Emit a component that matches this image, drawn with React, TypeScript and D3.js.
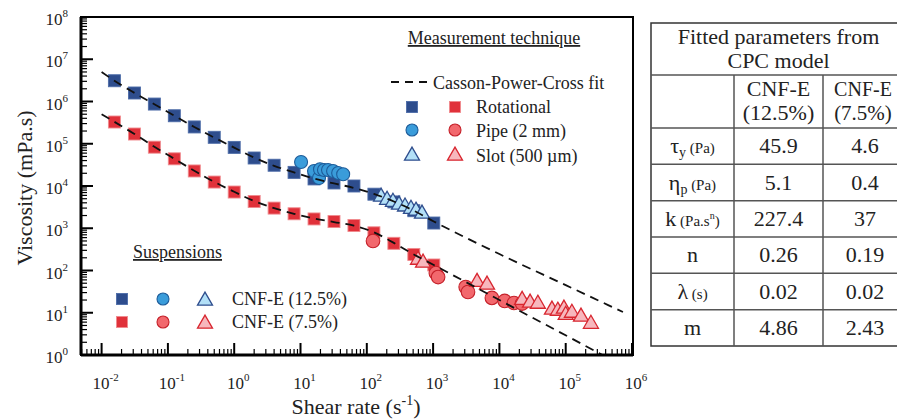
import React from 'react';
import * as d3 from 'd3';

// shear rates of the rotational sweeps (both suspensions)
const rotRate = [0.0156, 0.0313, 0.0625, 0.125, 0.25, 0.5, 1, 2, 4, 8, 16, 32, 64, 128, 256, 512, 1024];
const rot12 = [3.1e6, 1.59e6, 8.7e5, 4.6e5, 2.5e5, 1.42e5, 8.2e4, 4.6e4, 3.1e4, 2.1e4, 1.47e4, 1.18e4, 1.0e4, 6.4e3, 4.2e3, 2.6e3, 1.33e3];
const rot75 = [3.27e5, 1.7e5, 8.3e4, 4.4e4, 2.27e4, 1.24e4, 7.2e3, 4.3e3, 3.0e3, 2.2e3, 1.66e3, 1.44e3, 1.16e3, 7.8e2, 4.4e2, 2.4e2, 1.35e2];

const pipe12Rate = [10.2, 16, 19, 19.7, 22.6, 26, 31, 37, 44];
const pipe12 = [3.7e4, 2.26e4, 1.55e4, 2.5e4, 2.4e4, 2.4e4, 2.26e4, 2.03e4, 1.9e4];
const pipe75Rate = [124, 1100, 1190, 3100, 3360, 7700, 1.2e4, 1.66e4, 2.2e4];
const pipe75 = [500, 87, 70, 40.6, 31, 22.4, 19, 17, 16.5];

const slot12Rate = [164, 202, 248, 306, 377, 464, 552, 680];
const slot12 = [5.8e3, 4.9e3, 4.4e3, 3.75e3, 3.4e3, 3.0e3, 2.7e3, 2.3e3];
const slot75Rate = [592, 705, 4600, 6500, 2.2e4, 2.9e4, 3.8e4, 6.2e4, 7.6e4, 9.4e4, 1.0e5, 1.24e5, 1.7e5, 2.4e5];
const slot75 = [187, 159, 56, 48, 21, 18, 17, 12.3, 11.6, 13, 9.3, 10.4, 8.4, 5.7];

// Casson-Power-Cross fit curves
const fit12Rate = [0.01, 0.0156, 0.0313, 0.0625, 0.125, 0.25, 0.5, 1, 2, 4, 8, 16, 32, 64, 128, 256, 512, 1024, 1e4, 1e5, 7.3e5];
const fit12 = [5.0e6, 3.1e6, 1.6e6, 8.6e5, 4.6e5, 2.5e5, 1.4e5, 8.1e4, 4.7e4, 3.0e4, 2.1e4, 1.5e4, 1.15e4, 9.0e3, 6.5e3, 4.3e3, 2.6e3, 1.45e3, 245, 45, 10.4];
const fit75Rate = [0.01, 0.0156, 0.0313, 0.0625, 0.125, 0.25, 0.5, 1, 2, 4, 8, 16, 32, 64, 128, 256, 512, 1024, 1e4, 3.6e5];
const fit75 = [5.0e5, 3.3e5, 1.7e5, 8.5e4, 4.4e4, 2.3e4, 1.25e4, 7.3e3, 4.4e3, 3.0e3, 2.2e3, 1.7e3, 1.4e3, 1.15e3, 8.0e2, 4.5e2, 2.4e2, 1.35e2, 20, 1.0];

const xTickExps = [-2, -1, 0, 1, 2, 3, 4, 5, 6];
const yTickExps = [0, 1, 2, 3, 4, 5, 6, 7, 8];

// table
const tableTitle = ['Fitted parameters from', 'CPC model'];
const tableCols = [['CNF-E', '(12.5%)'], ['CNF-E', '(7.5%)']];
const paramSym = ['τ', 'η', 'k', 'n', 'λ', 'm'];
const paramSub = ['y', 'p', '', '', '', ''];
const paramUnit = ['(Pa)', '(Pa)', '(Pa.s', '', '(s)', ''];
const col12 = ['45.9', '5.1', '227.4', '0.26', '0.02', '4.86'];
const col75 = ['4.6', '0.4', '37', '0.19', '0.02', '2.43'];

const C = {
  sq12: '#2e4d8d', sq12s: '#4d6ca8',
  ci12: '#3a9cda', ci12s: '#1d5c9a',
  tr12: '#b3e0f7', tr12s: '#2e4d8d',
  sq75: '#e0313a', sq75s: '#f08a8e',
  ci75: '#f2686d', ci75s: '#c52029',
  tr75: '#f7b7bd', tr75s: '#d8262f',
};

const FONT = "'Liberation Serif', serif";

const Square = ({ x, y, s, fill, stroke }) => (
  <rect x={x - s / 2} y={y - s / 2} width={s} height={s} fill={fill} stroke={stroke} strokeWidth={0.9} />
);
const Circle = ({ x, y, r, fill, stroke }) => (
  <circle cx={x} cy={y} r={r} fill={fill} stroke={stroke} strokeWidth={1.1} />
);
const Tri = ({ x, y, s, fill, stroke }) => {
  const h = s * 0.87;
  return (
    <path d={`M${x},${y - h * 0.6}L${x + s / 2},${y + h * 0.4}L${x - s / 2},${y + h * 0.4}Z`}
      fill={fill} stroke={stroke} strokeWidth={1.3} strokeLinejoin="miter" />
  );
};

export default function App() {
  const W = 897, H = 420;
  const left = 81, right = 633, top = 17, bottom = 355;
  const x = d3.scaleLog().domain([0.00489, 1.035e6]).range([left, right]);
  const y = d3.scaleLog().domain([1, 1e8]).range([bottom, top]);

  const minorX = [];
  for (let e = -3; e <= 6; e++) for (let m = 2; m <= 9; m++) {
    const v = m * Math.pow(10, e);
    if (v > 0.00489 && v < 1.035e6) minorX.push(v);
  }
  const minorY = [];
  for (let e = 0; e < 8; e++) for (let m = 2; m <= 9; m++) minorY.push(m * Math.pow(10, e));

  const line = d3.line().x(d => x(d[0])).y(d => y(d[1])).curve(d3.curveMonotoneX);
  const path12 = line(fit12Rate.map((r, i) => [r, fit12[i]]));
  const path75 = line(fit75Rate.map((r, i) => [r, fit75[i]]));

  // table geometry
  const tx = [651, 734, 823, 912];
  const rowTop = 128, rowBot = 346;
  const rowY = d3.range(7).map(i => rowTop + (rowBot - rowTop) * i / 6);
  const col3x = 863;

  return (
    <svg width={W} height={H} style={{ position: 'absolute', left: 0, top: 0, background: '#fff', fontFamily: FONT }}>
      <rect width={W} height={H} fill="#fff" />

      {/* data markers */}
      {rotRate.map((r, i) => <Square key={'s12' + i} x={x(r)} y={y(rot12[i])} s={12} fill={C.sq12} stroke={C.sq12s} />)}
      {rotRate.map((r, i) => <Square key={'s75' + i} x={x(r)} y={y(rot75[i])} s={12} fill={C.sq75} stroke={C.sq75s} />)}
      {pipe12Rate.map((r, i) => <Circle key={'c12' + i} x={x(r)} y={y(pipe12[i])} r={6.5} fill={C.ci12} stroke={C.ci12s} />)}
      {pipe75Rate.map((r, i) => <Circle key={'c75' + i} x={x(r)} y={y(pipe75[i])} r={6.8} fill={C.ci75} stroke={C.ci75s} />)}
      {slot12Rate.map((r, i) => <Tri key={'t12' + i} x={x(r)} y={y(slot12[i])} s={15} fill={C.tr12} stroke={C.tr12s} />)}
      {slot75Rate.map((r, i) => <Tri key={'t75' + i} x={x(r)} y={y(slot75[i])} s={15} fill={C.tr75} stroke={C.tr75s} />)}

      {/* fit lines */}
      <path d={path12} fill="none" stroke="#111" strokeWidth={1.8} strokeDasharray="9,6" />
      <path d={path75} fill="none" stroke="#111" strokeWidth={1.8} strokeDasharray="9,6" />

      {/* frame */}
      <rect x={left} y={top} width={right - left} height={bottom - top} fill="none" stroke="#000" strokeWidth={2} />
      <line x1={left} x2={left} y1={top} y2={bottom} stroke="#000" strokeWidth={3} />
      <line x1={left} x2={right} y1={bottom} y2={bottom} stroke="#000" strokeWidth={3} />

      {/* y ticks */}
      {yTickExps.map(e => (
        <line key={'ym' + e} x1={left} x2={left + 12} y1={y(Math.pow(10, e))} y2={y(Math.pow(10, e))} stroke="#000" strokeWidth={2} />
      ))}
      {minorY.map((v, i) => (
        <line key={'yn' + i} x1={left} x2={left + 6} y1={y(v)} y2={y(v)} stroke="#000" strokeWidth={1.2} />
      ))}
      {yTickExps.map(e => (
        <text key={'yl' + e} x={68} y={y(Math.pow(10, e)) + 8} textAnchor="end" fontSize={17} fill="#222">
          10<tspan dy={-8} fontSize={11}>{e}</tspan>
        </text>
      ))}

      {/* x ticks */}
      {xTickExps.map(e => (
        <line key={'xm' + e} y1={bottom} y2={bottom - 12} x1={x(Math.pow(10, e))} x2={x(Math.pow(10, e))} stroke="#000" strokeWidth={2} />
      ))}
      {minorX.map((v, i) => (
        <line key={'xn' + i} y1={bottom} y2={bottom - 6} x1={x(v)} x2={x(v)} stroke="#000" strokeWidth={1.2} />
      ))}
      {xTickExps.map(e => (
        <text key={'xl' + e} x={x(Math.pow(10, e)) + 4} y={389} textAnchor="middle" fontSize={17} fill="#222">
          10<tspan dy={-8} fontSize={11}>{e}</tspan>
        </text>
      ))}

      {/* axis titles */}
      <text x={356} y={414} textAnchor="middle" fontSize={22} fill="#222">
        Shear rate (s<tspan dy={-9} fontSize={14}>-1</tspan><tspan dy={9}>)</tspan>
      </text>
      <text transform="translate(32,188) rotate(-90)" textAnchor="middle" fontSize={22} fill="#222">
        Viscosity (mPa.s)
      </text>

      {/* legend: measurement technique */}
      <text x={494} y={44} textAnchor="middle" fontSize={18} fill="#222" textDecoration="underline">Measurement technique</text>
      <line x1={391} x2={433} y1={82} y2={82} stroke="#111" strokeWidth={1.8} strokeDasharray="8,6" />
      <text x={433} y={89} fontSize={18} fill="#222">Casson-Power-Cross fit</text>
      <Square x={412} y={107} s={11} fill={C.sq12} stroke={C.sq12s} />
      <Square x={455} y={107} s={11} fill={C.sq75} stroke={C.sq75s} />
      <text x={476} y={113} fontSize={18} fill="#222">Rotational</text>
      <Circle x={412} y={130} r={6} fill={C.ci12} stroke={C.ci12s} />
      <Circle x={455} y={130} r={6} fill={C.ci75} stroke={C.ci75s} />
      <text x={476} y={137} fontSize={18} fill="#222">Pipe (2 mm)</text>
      <Tri x={412} y={155} s={15} fill={C.tr12} stroke={C.tr12s} />
      <Tri x={455} y={155} s={15} fill={C.tr75} stroke={C.tr75s} />
      <text x={476} y={162} fontSize={18} fill="#222">Slot (500 µm)</text>

      {/* legend: suspensions */}
      <text x={133} y={258} fontSize={18} fill="#222" textDecoration="underline">Suspensions</text>
      <Square x={122} y={299} s={11} fill={C.sq12} stroke={C.sq12s} />
      <Circle x={163} y={299} r={6} fill={C.ci12} stroke={C.ci12s} />
      <Tri x={205} y={300} s={15} fill={C.tr12} stroke={C.tr12s} />
      <text x={232} y={305} fontSize={18} fill="#222">CNF-E (12.5%)</text>
      <Square x={122} y={322} s={11} fill={C.sq75} stroke={C.sq75s} />
      <Circle x={163} y={322} r={6} fill={C.ci75} stroke={C.ci75s} />
      <Tri x={205} y={323} s={15} fill={C.tr75} stroke={C.tr75s} />
      <text x={232} y={328} fontSize={18} fill="#222">CNF-E (7.5%)</text>

      {/* table */}
      <g stroke="#555" strokeWidth={1.5}>
        <rect x={tx[0]} y={23} width={tx[3] - tx[0]} height={rowBot - 23} fill="none" stroke="#333" />
        <line x1={tx[0]} x2={tx[3]} y1={75} y2={75} />
        {rowY.slice(0, 6).map((ry, i) => <line key={'tr' + i} x1={tx[0]} x2={tx[3]} y1={ry} y2={ry} />)}
        <line x1={tx[1]} x2={tx[1]} y1={75} y2={rowBot} />
        <line x1={tx[2]} x2={tx[2]} y1={75} y2={rowBot} />
      </g>
      <g fontSize={22} fill="#222" textAnchor="middle">
        <text x={(tx[0] + tx[3]) / 2 - 3} y={44}>{tableTitle[0]}</text>
        <text x={(tx[0] + tx[3]) / 2 - 3} y={68}>{tableTitle[1]}</text>
        {tableCols.map((c, i) => {
          const cx = i === 0 ? (tx[1] + tx[2]) / 2 : col3x;
          return (
            <g key={'hc' + i}>
              <text x={cx} y={96} fontSize={i === 0 ? 22 : 20}>{c[0]}</text>
              <text x={cx} y={120} fontSize={i === 0 ? 22 : 21}>{c[1]}</text>
            </g>
          );
        })}
        {paramSym.map((p, i) => {
          const cy = (rowY[i] + rowY[i + 1]) / 2 + 7;
          return (
            <g key={'row' + i}>
              <text x={(tx[0] + tx[1]) / 2} y={cy}>
                {p}
                {paramSub[i] && <tspan dy={4} fontSize={14}>{paramSub[i]}</tspan>}
                {paramUnit[i] && (
                  <tspan dy={paramSub[i] ? -4 : 0} fontSize={15}>{' ' + paramUnit[i]}</tspan>
                )}
                {i === 2 && <tspan dy={-7} fontSize={10}>n</tspan>}
                {i === 2 && <tspan dy={7} fontSize={15}>)</tspan>}
              </text>
              <text x={(tx[1] + tx[2]) / 2} y={cy}>{col12[i]}</text>
              <text x={col3x + 2} y={cy}>{col75[i]}</text>
            </g>
          );
        })}
      </g>
    </svg>
  );
}
